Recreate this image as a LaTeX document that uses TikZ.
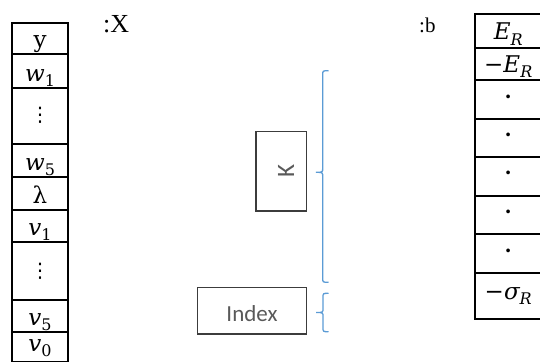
\documentclass[tikz,border=0pt]{standalone}
\usepackage{fontspec}
\setmainfont{Liberation Serif}
\newfontfamily\uisans{Carlito}
\newfontfamily\dvsans{DejaVu Sans}
\newfontfamily\mfont{DejaVu Serif}
\newcommand\mv[1]{{\mfont\itshape #1}}
\newcommand\mup[1]{{\mfont #1}}
\newcommand\sbr[1]{\raisebox{-0.22em}{\mfont\fontsize{16}{16}\selectfont #1}}
\definecolor{bracecol}{RGB}{91,155,213}
\definecolor{boxgray}{RGB}{60,60,60}
\definecolor{txtgray}{RGB}{89,89,89}
\begin{document}
\begin{tikzpicture}[x=1pt,y=-1pt,
  cell/.style={draw, line width=2pt, inner sep=0pt, font=\fontsize{23}{27}\selectfont},
  lcell/.style={cell, minimum width=56.6pt},
  rcell/.style={cell, minimum width=67.5pt},
  mbox/.style={draw=boxgray, line width=1.3pt, inner sep=0pt, text=txtgray, font=\uisans\fontsize{23}{27}\selectfont},
  lbl/.style={anchor=base west, inner sep=0pt},
  bracestyle/.style={draw=bracecol, line width=1.3pt}
]
\useasboundingbox (0,0) rectangle (540,361);

% left table
\node[lcell, text height=24.8pt, text depth=6.5pt] (ly) at (40,38.35) {\mup{y}};
\node[lcell, text height=27pt, text depth=6.5pt] (lw1) at (40,70.75) {\mv{w}\sbr{1}};
\node[lcell, minimum height=56.5pt] (ld1) at (40,115.75) {\dvsans\fontsize{20}{22}\selectfont ⋮};
\node[lcell, text height=26.8pt, text depth=6.5pt] (lw5) at (40,160.65) {\mv{w}\sbr{5}};
\node[lcell, text height=26.2pt, text depth=6.5pt] (llam) at (40,193.65) {\mup{λ}};
\node[lcell, text height=25.5pt, text depth=6.5pt] (lv1) at (40,226) {\mv{v}\sbr{1}};
\node[lcell, minimum height=58pt] (ld2) at (40,271) {\dvsans\fontsize{20}{22}\selectfont ⋮};
\node[lcell, text height=25pt, text depth=6.5pt] (lv5) at (40,315.75) {\mv{v}\sbr{5}};
\node[lcell, text height=20pt, text depth=10.5pt] (lv0) at (40,346.75) {\mv{v}\sbr{0}};

% right table
\node[rcell, text height=25.7pt, text depth=8pt] (rE) at (508.25,31.15) {\mv{E}\sbr{\itshape R}};
\node[rcell, text height=24.3pt, text depth=8pt] (rmE) at (508.25,64.15) {\mup{−}\mv{E}\sbr{\itshape R}};
\node[rcell, minimum height=38.4pt] (rd1) at (508.25,99.5) {\textbf{·}};
\node[rcell, minimum height=38pt] (rd2) at (508.25,137.7) {\textbf{·}};
\node[rcell, minimum height=38.8pt] (rd3) at (508.25,176.1) {\textbf{·}};
\node[rcell, minimum height=38.5pt] (rd4) at (508.25,214.75) {\textbf{·}};
\node[rcell, minimum height=39pt] (rd5) at (508.25,253.5) {\textbf{·}};
\node[rcell, minimum height=45.8pt] (rs) at (508.25,295.9) {\mup{−}\mv{σ}\sbr{\itshape R}};

% labels
\node[lbl, font=\fontsize{26}{30}\selectfont] (xlab) at (103,33) {:X};
\node[lbl, font=\fontsize{21}{25}\selectfont] (blab) at (419,33) {:b};

% middle boxes
\node[mbox, minimum width=50.7pt, minimum height=79.3pt] (kbox) at (281.3,171.3) {};
\node[inner sep=0pt, text=txtgray, font=\uisans\fontsize{25}{29}\selectfont, rotate=90] (klab) at (286,171.3) {K};
\node[mbox, minimum width=109.4pt, text height=34.4pt, text depth=12.3pt] (index) at (252,310.65) {Index};

% braces
\draw[bracestyle] (328.5,70.7) .. controls (322.7,70.7) .. (322.7,75) -- (322.7,168)
  .. controls (322.7,172.3) .. (316,172.3) .. controls (322.7,172.3) .. (322.7,176.6)
  -- (322.7,278) .. controls (322.7,282.3) .. (328.5,282.3);
\draw[bracestyle] (328.5,293.3) .. controls (323,293.3) .. (323,297.5) -- (323,308.3)
  .. controls (323,312.5) .. (316,312.5) .. controls (323,312.5) .. (323,316.7)
  -- (323,327.5) .. controls (323,331.7) .. (328.5,331.7);
\end{tikzpicture}
\end{document}
